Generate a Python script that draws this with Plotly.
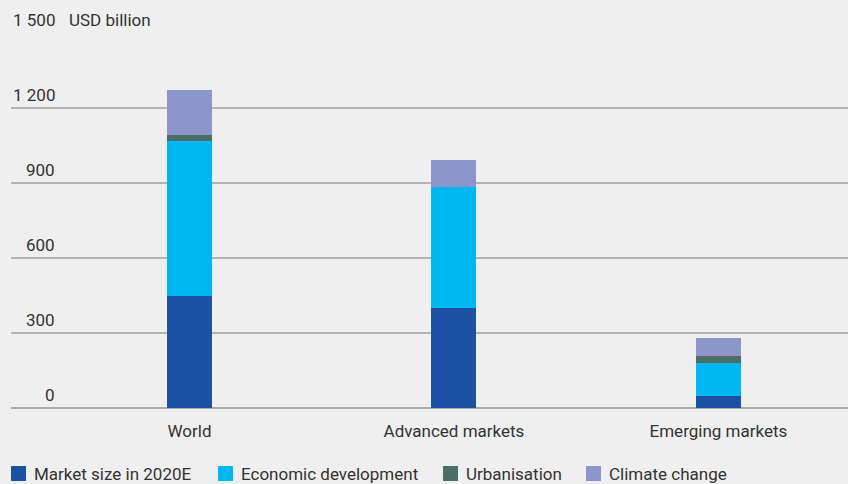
import plotly.graph_objects as go

categories = ["World", "Advanced markets", "Emerging markets"]
market_size = [450, 401, 49]
economic_dev = [619, 484, 132]
urbanisation = [24, 0, 28]
climate_change = [180, 108, 73]

series_names = ["Market size in 2020E", "Economic development", "Urbanisation", "Climate change"]
series_values = [market_size, economic_dev, urbanisation, climate_change]
series_colors = ["#1b52a4", "#00b8f1", "#4b6e67", "#8c96cb"]

y_ticks = [0, 300, 600, 900, 1200, 1500]
y_tick_labels = ["0", "300", "600", "900", "1 200", "1 500"]
unit_label = "USD billion"

W, H = 848, 484
ML, MR, MT, MB = 11, 0, 33, 76
plot_w = W - ML - MR
plot_h = H - MT - MB

fig = go.Figure()
for name, vals, col in zip(series_names, series_values, series_colors):
    fig.add_trace(go.Bar(x=categories, y=vals, name=name, marker=dict(color=col, line=dict(width=0)),
                         width=0.17, showlegend=False))

font_family = "Roboto, Arial, sans-serif"
text_color = "#333333"

def px_x(px):
    return (px - ML) / plot_w

def px_y(py):
    return (H - MB - py) / plot_h

annotations = []
shapes = []
label_x = px_x(57)
for v, t in zip(y_ticks, y_tick_labels):
    annotations.append(dict(x=label_x, xref="paper", y=v, yref="y", text=t, showarrow=False,
                            xanchor="right", yanchor="bottom", yshift=1,
                            font=dict(family=font_family, size=17, color=text_color)))
annotations.append(dict(x=px_x(67), xref="paper", y=1500, yref="y", text=unit_label,
                        showarrow=False, xanchor="left", yanchor="bottom", yshift=1,
                        font=dict(family=font_family, size=17, color=text_color)))

# legend (manual, built from series names/colours)
legend_square_x = [11, 218, 443, 586]
leg_top, leg_bot = 466, 481
for name, col, sx in zip(series_names, series_colors, legend_square_x):
    shapes.append(dict(type="rect", xref="paper", yref="paper",
                       x0=px_x(sx), x1=px_x(sx + 15), y0=px_y(leg_bot), y1=px_y(leg_top),
                       fillcolor=col, line=dict(width=0)))
    annotations.append(dict(x=px_x(sx + 21), xref="paper", y=px_y((leg_top + leg_bot) / 2), yref="paper",
                            text=name, showarrow=False, xanchor="left", yanchor="middle",
                            font=dict(family=font_family, size=17, color=text_color)))

fig.update_layout(
    width=W, height=H,
    margin=dict(l=ML, r=MR, t=MT, b=MB),
    barmode="stack",
    paper_bgcolor="#efefef", plot_bgcolor="#efefef",
    font=dict(family=font_family, size=17, color=text_color),
    showlegend=False,
    annotations=annotations,
    shapes=shapes,
    xaxis=dict(range=[-0.675, 2.49], showgrid=False, zeroline=False, showline=False,
               ticks="outside", ticklen=8, tickcolor="rgba(0,0,0,0)",
               tickfont=dict(size=17, color=text_color), fixedrange=True),
    yaxis=dict(range=[0, 1500], tickvals=y_ticks, showticklabels=False, showgrid=True,
               gridcolor="#b3b3b3", gridwidth=1.5, zeroline=True, zerolinecolor="#aaaaaa",
               zerolinewidth=2, showline=False, ticks="", fixedrange=True),
)

fig.write_html("out.html")
